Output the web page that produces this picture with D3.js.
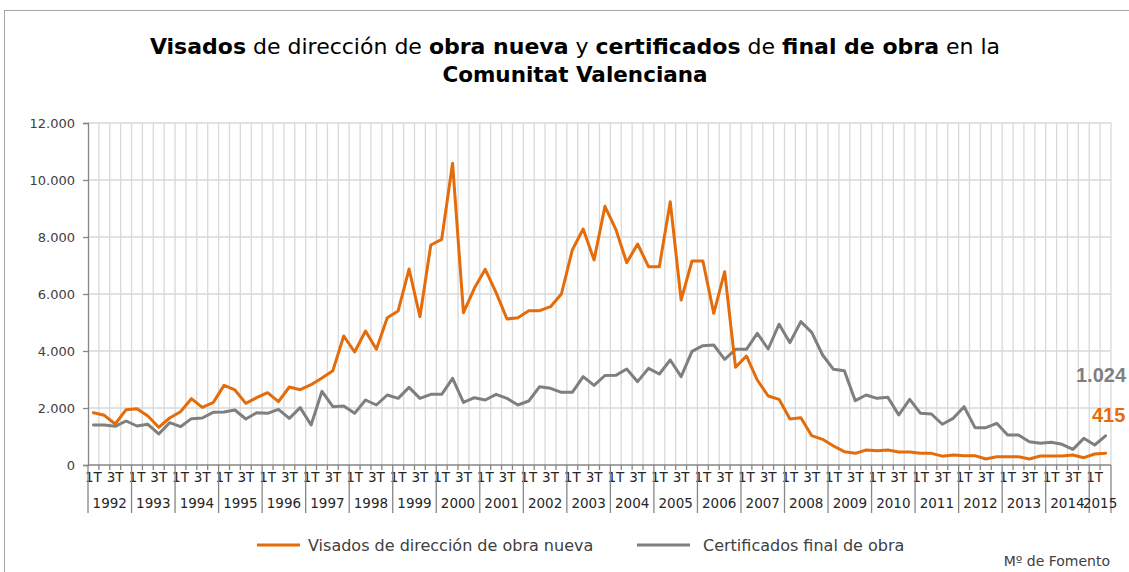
<!DOCTYPE html>
<html>
<head>
<meta charset="utf-8">
<script src="https://cdn.jsdelivr.net/npm/d3@7"></script>
<style>
  html, body { margin: 0; padding: 0; background: #fff; }
  svg { display: block; font-family: "DejaVu Sans", "Noto Sans", sans-serif; }
</style>
</head>
<body>
<svg id="chart" width="1129" height="572"></svg>
<script>
// ---- Data (quarterly, 1T 1992 .. 2T 2015) ----
const years = ["1992","1993","1994","1995","1996","1997","1998","1999","2000","2001","2002","2003",
               "2004","2005","2006","2007","2008","2009","2010","2011","2012","2013","2014","2015"];
const quarterNames = ["1T","2T","3T","4T"];
const visados = [
  1835, 1743, 1438, 1942,
  1977, 1719, 1322, 1649,
  1871, 2327, 2023, 2187,
  2795, 2632, 2164, 2362,
  2538, 2222, 2737, 2643,
  2818, 3053, 3310, 4526,
  3965, 4702, 4059, 5170,
  5404, 6877, 5205, 7719,
  7918, 10585, 5345, 6199,
  6865, 6047, 5123, 5170,
  5415, 5415, 5556, 6000,
  7544, 8280, 7193, 9076,
  8269, 7099, 7754, 6959,
  6959, 9240, 5789, 7158,
  7158, 5322, 6784, 3427,
  3825, 2982, 2421, 2304,
  1614, 1661, 1029, 901,
  667, 468, 409, 526,
  503, 526, 456, 456,
  409, 409, 310, 351,
  327, 327, 211, 292,
  292, 292, 211, 316,
  316, 316, 351, 257,
  386, 415
];
const certificados = [
  1404, 1400, 1357, 1544,
  1368, 1427, 1088, 1485,
  1345, 1626, 1649, 1848,
  1860, 1930, 1614, 1836,
  1813, 1953, 1637, 2012,
  1404, 2585, 2047, 2070,
  1813, 2281, 2105, 2456,
  2339, 2725, 2339, 2480,
  2480, 3041, 2199, 2362,
  2281, 2480, 2339, 2105,
  2246, 2749, 2690, 2550,
  2550, 3099, 2795, 3140,
  3146, 3368, 2924, 3392,
  3193, 3684, 3099, 3988,
  4187, 4210, 3708, 4059,
  4059, 4620, 4070, 4940,
  4292, 5029, 4655, 3860,
  3357, 3310, 2257, 2456,
  2339, 2374, 1754, 2304,
  1813, 1789, 1430, 1637,
  2047, 1310, 1310, 1462,
  1053, 1053, 819, 760,
  795, 725, 550, 936,
  702, 1024
];
const yTicks = [0, 2000, 4000, 6000, 8000, 10000, 12000];
const seriesNames = ["Visados de dirección de obra nueva", "Certificados final de obra"];
const lastLabels = ["415", "1.024"];
const sourceText = "Mº  de Fomento";

// ---- Layout ----
const ORANGE = "#E46C0A", GRAY = "#7F7F7F";
const svg = d3.select("#chart");
const pL = 88, pR = 1111, pT = 123, pB = 465;
const n = visados.length;

const x = d3.scaleBand().domain(d3.range(n)).range([pL, pR]).paddingInner(0).paddingOuter(0);
const bw = x.bandwidth();
const y = d3.scaleLinear().domain([0, 12000]).range([pB, pT]);
const fmt = d => d3.format(",")(d).replace(/,/g, ".");

// outer chart border
svg.append("rect").attr("x", 4.5).attr("y", 10.5).attr("width", 1140).attr("height", 600)
  .attr("fill", "none").attr("stroke", "#a6a6a6").attr("stroke-width", 1);

// title
const title = svg.append("text").attr("x", 575).attr("y", 54).attr("text-anchor", "middle")
  .attr("font-size", 22).attr("fill", "#000");
[["Visados", true], [" de dirección de ", false], ["obra nueva", true], [" y ", false],
 ["certificados", true], [" de ", false], ["final de obra", true], [" en la", false]]
  .forEach(([t, b]) => title.append("tspan").text(t).attr("font-weight", b ? "bold" : "normal"));
svg.append("text").attr("x", 575).attr("y", 82).attr("text-anchor", "middle")
  .attr("font-size", 21.5).attr("font-weight", "bold").text("Comunitat Valenciana");

// horizontal gridlines
svg.append("g").selectAll("line").data(yTicks.filter(d => d > 0)).join("line")
  .attr("x1", pL).attr("x2", pR).attr("y1", d => y(d)).attr("y2", d => y(d))
  .attr("stroke", "#d9d9d9").attr("stroke-width", 1.3);

// vertical gridlines at category boundaries
svg.append("g").selectAll("line").data(d3.range(1, n + 1)).join("line")
  .attr("x1", k => x(0) + k * bw).attr("x2", k => x(0) + k * bw)
  .attr("y1", pT).attr("y2", pB)
  .attr("stroke", "#d9d9d9").attr("stroke-width", 1.3);

// y axis
const yAxis = svg.append("g").attr("transform", `translate(${pL},0)`)
  .call(d3.axisLeft(y).tickValues(yTicks).tickFormat(fmt).tickSizeOuter(0).tickSize(5).tickPadding(8));
yAxis.attr("font-family", null).attr("font-size", null);
yAxis.select(".domain").attr("stroke", "#868686").attr("stroke-width", 1.3);
yAxis.selectAll(".tick line").attr("stroke", "#868686").attr("stroke-width", 1.3);
yAxis.selectAll(".tick text").attr("font-size", 13).attr("fill", "#404040");

// x axis (categories)
const xAxis = svg.append("g").attr("transform", `translate(0,${pB})`)
  .call(d3.axisBottom(x).tickValues(d3.range(0, n, 2)).tickSize(0).tickPadding(7)
    .tickFormat(i => quarterNames[i % 4]));
xAxis.attr("font-family", null).attr("font-size", null);
xAxis.select(".domain").remove();
xAxis.selectAll(".tick text").attr("font-size", 13.5).attr("fill", "#262626");
svg.append("line").attr("x1", pL).attr("x2", pR).attr("y1", pB).attr("y2", pB)
  .attr("stroke", "#868686").attr("stroke-width", 1.3);

// small ticks at each category boundary
svg.append("g").selectAll("line").data(d3.range(0, n + 1)).join("line")
  .attr("x1", k => x(0) + k * bw).attr("x2", k => x(0) + k * bw)
  .attr("y1", pB).attr("y2", k => (k % 4 === 0 || k === n) ? 513 : pB + 5)
  .attr("stroke", "#868686").attr("stroke-width", 1.3);

// year labels
svg.append("g").selectAll("text").data(years).join("text")
  .attr("x", (d, j) => {
    const s = j * 4, e = Math.min(n, s + 4);
    return x(0) + (s + e) / 2 * bw;
  })
  .attr("y", 508).attr("text-anchor", "middle").attr("font-size", 13.5).attr("fill", "#262626")
  .text(d => d);

// lines
const line = d3.line().x((d, i) => x(i) + bw / 2).y(d => y(d));
svg.append("path").datum(certificados).attr("d", line).attr("fill", "none")
  .attr("stroke", GRAY).attr("stroke-width", 3).attr("stroke-linejoin", "round").attr("stroke-linecap", "round");
svg.append("path").datum(visados).attr("d", line).attr("fill", "none")
  .attr("stroke", ORANGE).attr("stroke-width", 3).attr("stroke-linejoin", "round").attr("stroke-linecap", "round");

// end labels
svg.append("text").attr("x", 1076).attr("y", 382).attr("font-size", 20).attr("font-weight", "bold")
  .style("font-family", "'Liberation Sans', Arial, sans-serif")
  .attr("fill", GRAY).text(lastLabels[1]);
svg.append("text").attr("x", 1092).attr("y", 422).attr("font-size", 20).attr("font-weight", "bold")
  .style("font-family", "'Liberation Sans', Arial, sans-serif")
  .attr("fill", ORANGE).text(lastLabels[0]);

// legend
const leg = svg.append("g");
leg.append("line").attr("x1", 257).attr("x2", 300).attr("y1", 545).attr("y2", 545)
  .attr("stroke", ORANGE).attr("stroke-width", 3);
leg.append("text").attr("x", 308).attr("y", 551).attr("font-size", 16).attr("fill", "#404040").text(seriesNames[0]);
leg.append("line").attr("x1", 637).attr("x2", 690).attr("y1", 545).attr("y2", 545)
  .attr("stroke", GRAY).attr("stroke-width", 3);
leg.append("text").attr("x", 703).attr("y", 551).attr("font-size", 16).attr("fill", "#404040").text(seriesNames[1]);

// source
svg.append("text").attr("x", 1110).attr("y", 566).attr("text-anchor", "end").attr("font-size", 14)
  .attr("fill", "#404040").text(sourceText);
</script>
</body>
</html>
